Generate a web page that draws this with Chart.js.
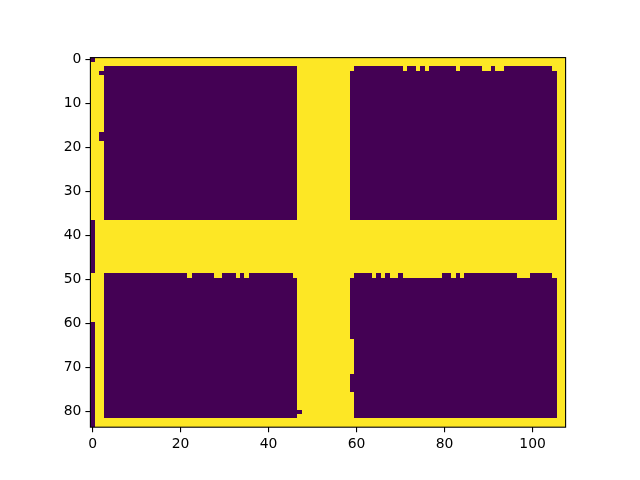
<!DOCTYPE html>
<html>
<head>
<meta charset="utf-8">
<script src="https://cdn.jsdelivr.net/npm/chart.js@4/dist/chart.umd.min.js"></script>
<style>html,body{margin:0;padding:0;background:#fff;}canvas{display:block;}</style>
</head>
<body>
<canvas id="c" width="640" height="480"></canvas>
<script>
// Image size (columns x rows) and value colours (viridis ends)
const nCols = 108;
const nRows = 84;
const lowColor = '#440154';   // value 0
const highColor = '#fde725';  // value 1
const xTicks = [0, 20, 40, 60, 80, 100];
const yTicks = [0, 10, 20, 30, 40, 50, 60, 70, 80];

// Runs of value-0 cells per row: [firstCol, lastCol]; all other cells are 1
const blockRow  = [[3,46],[59,105]];
const blockRowL = [[2,46],[59,105]];
const zeroRuns = [];
zeroRuns[0]  = [[0,0]];
zeroRuns[1]  = [];
zeroRuns[2]  = [[3,46],[60,70],[72,73],[75,75],[77,82],[84,88],[91,91],[94,104]];
zeroRuns[3]  = blockRowL;
for (let r = 4; r <= 16; r++) zeroRuns[r] = blockRow;
zeroRuns[17] = blockRowL;
zeroRuns[18] = blockRowL;
for (let r = 19; r <= 36; r++) zeroRuns[r] = blockRow;
for (let r = 37; r <= 48; r++) zeroRuns[r] = [[0,0]];
zeroRuns[49] = [[3,21],[23,27],[30,32],[34,34],[36,45],[60,63],[65,65],[67,67],[70,70],[80,81],[83,83],[85,96],[100,104]];
for (let r = 50; r <= 59; r++) zeroRuns[r] = blockRow;
for (let r = 60; r <= 63; r++) zeroRuns[r] = [[0,0],[3,46],[59,105]];
for (let r = 64; r <= 71; r++) zeroRuns[r] = [[0,0],[3,46],[60,105]];
for (let r = 72; r <= 75; r++) zeroRuns[r] = [[0,0],[3,46],[59,105]];
for (let r = 76; r <= 79; r++) zeroRuns[r] = [[0,0],[3,46],[60,105]];
zeroRuns[80] = [[0,0],[3,47],[60,105]];
zeroRuns[81] = [[0,0],[3,46],[60,105]];
zeroRuns[82] = [[0,0]];
zeroRuns[83] = [[0,0]];

// Build cells table from the runs
const cells = [];
for (let r = 0; r < nRows; r++) {
  for (let c = 0; c < nCols; c++) {
    let v = 1;
    for (const [a, b] of (zeroRuns[r] || [])) { if (c >= a && c <= b) { v = 0; break; } }
    cells.push({x: c, y: r, v: v});
  }
}

const imagePlugin = {
  id: 'imagePlugin',
  beforeDatasetsDraw(chart) {
    const {ctx, chartArea, scales: {x, y}} = chart;
    ctx.save();
    ctx.beginPath();
    ctx.rect(chartArea.left, chartArea.top, chartArea.right - chartArea.left, chartArea.bottom - chartArea.top);
    ctx.clip();
    for (const d of chart.data.datasets[0].data) {
      const x0 = Math.round(x.getPixelForValue(d.x - 0.5));
      const x1 = Math.round(x.getPixelForValue(d.x + 0.5));
      const ya = Math.round(y.getPixelForValue(d.y - 0.5));
      const yb = Math.round(y.getPixelForValue(d.y + 0.5));
      ctx.fillStyle = d.v ? highColor : lowColor;
      ctx.fillRect(Math.min(x0, x1), Math.min(ya, yb), Math.abs(x1 - x0), Math.abs(yb - ya));
    }
    ctx.restore();
  },
  afterDraw(chart) {
    const {ctx, chartArea} = chart;
    ctx.save();
    ctx.strokeStyle = '#000';
    ctx.lineWidth = 1.1;
    ctx.strokeRect(chartArea.left, chartArea.top, chartArea.right - chartArea.left, chartArea.bottom - chartArea.top);
    ctx.restore();
  }
};

const font = {family: 'DejaVu Sans', size: 13.9};

new Chart(document.getElementById('c'), {
  type: 'scatter',
  data: {datasets: [{data: cells, pointRadius: 0, pointHoverRadius: 0}]},
  options: {
    responsive: false,
    devicePixelRatio: 1,
    animation: false,
    events: [],
    layout: {padding: {left: 0, top: 57.6, right: 74.4, bottom: 0}},
    plugins: {legend: {display: false}, tooltip: {enabled: false}},
    scales: {
      x: {
        type: 'linear', min: -0.5, max: nCols - 0.5,
        afterBuildTicks(s) { s.ticks = xTicks.map(v => ({value: v})); },
        afterFit(s) { s.height = 52.8; },
        grid: {drawOnChartArea: false, drawTicks: true, tickLength: 5, color: '#000', lineWidth: 1.1},
        border: {display: false},
        ticks: {font: font, color: '#000', padding: 4, maxRotation: 0, autoSkip: false}
      },
      y: {
        type: 'linear', reverse: true, min: -0.5, max: nRows - 0.5,
        afterBuildTicks(s) { s.ticks = yTicks.map(v => ({value: v})); },
        afterFit(s) { s.width = 90.4; },
        grid: {drawOnChartArea: false, drawTicks: true, tickLength: 5, color: '#000', lineWidth: 1.1},
        border: {display: false},
        ticks: {font: font, color: '#000', padding: 4, autoSkip: false}
      }
    }
  },
  plugins: [imagePlugin]
});
</script>
</body>
</html>
